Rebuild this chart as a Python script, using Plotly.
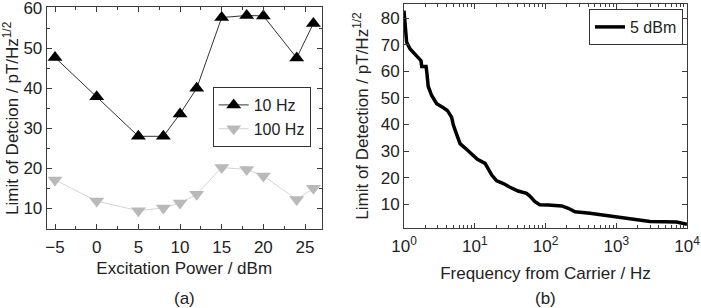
import plotly.graph_objects as go

# ---- data: panel (a)
power_dbm = [-5, 0, 5, 8, 10, 12, 15, 18, 20, 24, 26]
lod_10hz = [47.7, 37.9, 28.0, 28.0, 33.6, 40.0, 57.7, 58.2, 58.1, 47.6, 56.2]
lod_100hz = [17.1, 11.8, 9.4, 10.1, 11.3, 13.5, 20.2, 19.7, 18.1, 12.2, 15.0]

# ---- data: panel (b)
freq_hz = [1.0, 1.09, 1.22, 1.51, 1.74, 1.78, 2.05, 2.1, 2.2, 2.46, 2.9, 3.6, 4.1,
           4.7, 5.0, 5.6, 6.2, 7.7, 9.6, 10.9, 14.0, 15.5, 17.4, 20.4, 25.0, 31.5,
           41.0, 54.0, 60.0, 71.0, 83.0, 109.0, 116.0, 170.0, 210.0, 262.0, 425.0,
           733.0, 1130.0, 1730.0, 3000.0, 7100.0, 9400.0, 10000.0]
lod_5dbm = [82.8, 70.9, 68.4, 65.9, 64.0, 61.8, 61.8, 59.7, 54.3, 50.9, 47.8, 46.3, 45.3,
            42.8, 39.7, 36.0, 32.8, 30.6, 28.5, 26.9, 25.4, 23.5, 21.0, 18.8, 17.9, 16.4,
            15.0, 14.1, 13.1, 11.0, 9.8, 9.7, 9.7, 9.4, 8.5, 7.2, 6.6,
            5.7, 4.8, 4.1, 3.5, 3.3, 2.7, 2.5]

x_ticks_a = [-5, 0, 5, 10, 15, 20, 25]
y_ticks_a = [10, 20, 30, 40, 50, 60]
x_ticks_b = [1, 10, 100, 1000, 10000]
x_ticktext_b = ["10<sup>0</sup>", "10<sup>1</sup>", "10<sup>2</sup>", "10<sup>3</sup>", "10<sup>4</sup>"]
y_ticks_b = [10, 20, 30, 40, 50, 60, 70, 80]

FONT = "Liberation Sans, Arial, sans-serif"
TXT = "#222222"
AX = "#3a3a3a"
W, H = 701, 308

fig = go.Figure()
fig.add_trace(go.Scatter(
    x=power_dbm, y=lod_10hz, mode="lines+markers", name="10 Hz",
    line=dict(color="#333333", width=1),
    marker=dict(symbol="triangle-up", size=13, color="#000000"),
    xaxis="x", yaxis="y", legend="legend"))
fig.add_trace(go.Scatter(
    x=power_dbm, y=lod_100hz, mode="lines+markers", name="100 Hz",
    line=dict(color="#d4d4d4", width=1),
    marker=dict(symbol="triangle-down", size=13, color="#b9b9b9"),
    xaxis="x", yaxis="y", legend="legend"))
fig.add_trace(go.Scatter(
    x=freq_hz, y=lod_5dbm, mode="lines", name="5 dBm",
    line=dict(color="#000000", width=3.5),
    xaxis="x2", yaxis="y2", legend="legend2"))

common = dict(showline=True, linecolor=AX, linewidth=1, mirror="allticks",
              ticks="inside", ticklen=5, tickcolor=AX, showgrid=False, zeroline=False,
              automargin=False, ticklabeloverflow="allow",
              tickfont=dict(family=FONT, size=17, color=TXT))

fig.update_layout(
    width=W, height=H, margin=dict(l=0, r=0, t=0, b=0, autoexpand=False),
    paper_bgcolor="white", plot_bgcolor="white",
    font=dict(family=FONT, size=17, color=TXT),
    xaxis=dict(domain=[46.7 / W, 321.7 / W], anchor="y", range=[-6, 27],
               tickvals=x_ticks_a, ticklabelstandoff=2,
               minor=dict(ticks="inside", ticklen=3, dtick=2.5, tickcolor=AX),
               title=dict(text="Excitation Power / dBm", standoff=6,
                          font=dict(family=FONT, size=17, color=TXT)),
               **common),
    yaxis=dict(domain=[(H - 229.3) / H, (H - 7.3) / H], anchor="x", range=[4.75, 60.25],
               tickvals=y_ticks_a,
               minor=dict(ticks="inside", ticklen=3, dtick=5, tickcolor=AX),
               title=dict(text="Limit of Detcion / pT/Hz<sup>1/2</sup>", standoff=2,
                          font=dict(family=FONT, size=17, color=TXT)),
               **common),
    xaxis2=dict(domain=[404 / W, 687 / W], anchor="y2", type="log", range=[0, 4],
                tickvals=x_ticks_b, ticktext=x_ticktext_b, ticklabelstandoff=3,
                minor=dict(ticks="inside", ticklen=3, tickcolor=AX,
                           tickvals=[m * 10 ** d for d in range(4) for m in range(2, 10)]),
                title=dict(text="Frequency from Carrier / Hz", standoff=12,
                           font=dict(family=FONT, size=17, color=TXT)),
                **common),
    yaxis2=dict(domain=[(H - 227.7) / H, (H - 4.3) / H], anchor="x2", range=[1.2, 85.2],
                tickvals=y_ticks_b,
                title=dict(text="Limit of Detection / pT/Hz<sup>1/2</sup>", standoff=7,
                           font=dict(family=FONT, size=17, color=TXT)),
                **common),
    legend=dict(x=212.7 / W, y=(H - 87) / H, xanchor="left", yanchor="top",
                bordercolor="#333333", borderwidth=1, bgcolor="rgba(255,255,255,0)",
                font=dict(family=FONT, size=16, color=TXT), itemwidth=30,
                tracegroupgap=0),
    legend2=dict(x=683 / W, y=(H - 9) / H, xanchor="right", yanchor="top",
                 bordercolor="#333333", borderwidth=1, bgcolor="rgba(255,255,255,1)",
                 font=dict(family=FONT, size=16, color=TXT), itemwidth=30),
    annotations=[
        dict(text="(a)", x=184 / W, y=(H - 298) / H, xref="paper", yref="paper",
             xanchor="center", yanchor="middle",
             showarrow=False, font=dict(family=FONT, size=17, color=TXT)),
        dict(text="(b)", x=545 / W, y=(H - 298) / H, xref="paper", yref="paper",
             xanchor="center", yanchor="middle",
             showarrow=False, font=dict(family=FONT, size=17, color=TXT)),
    ],
)

fig.write_html("out.html", config={"displayModeBar": False},
               post_script="document.body.style.margin='0';document.body.style.overflow='hidden';")
